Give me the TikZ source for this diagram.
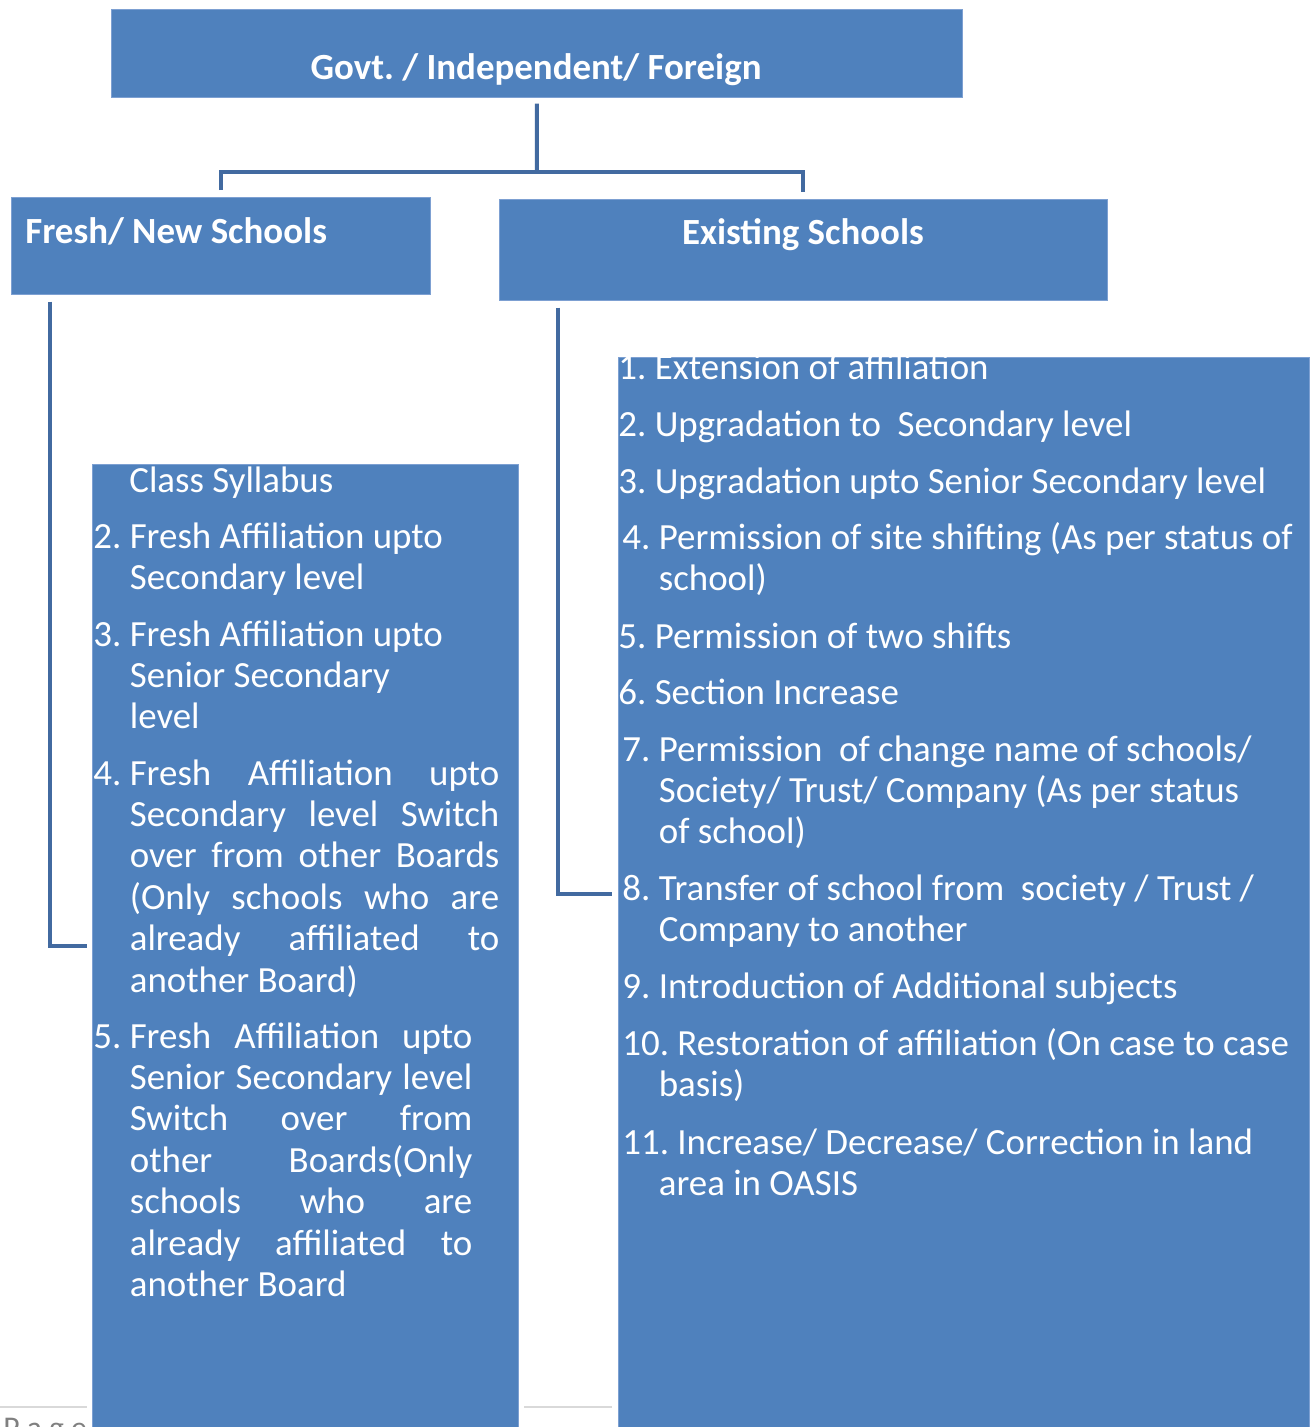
\documentclass[tikz,border=0pt]{standalone}
\usepackage{fontspec}
\setmainfont{Carlito}
\usetikzlibrary{positioning}
\frenchspacing
\definecolor{boxblue}{RGB}{79,129,189}
\definecolor{linkblue}{RGB}{66,106,160}
\definecolor{edgeblue}{RGB}{125,160,210}
\definecolor{footgrey}{RGB}{217,217,217}
\newcommand{\itemtext}[2]{\parbox[t]{#1}{\hangindent=0.73cm\hangafter=1 #2}}
\newcommand{\itemnum}[1]{\makebox[0.73cm][l]{#1}}
\begin{document}
\begin{tikzpicture}[x=0.02cm,y=-0.02cm,
		box/.style={fill=boxblue,draw=edgeblue,line width=0.4pt,anchor=north west,inner sep=0pt},
		head/.style={text=white,font=\fontsize{21}{24}\selectfont\bfseries,inner sep=0pt},
		entry/.style={text=white,font=\fontsize{21}{23.6}\selectfont,anchor=base west,inner sep=0pt},
		link/.style={linkblue,line width=0.08cm}]
		\useasboundingbox (0,0) rectangle (1312,1427);
		
		% page footer
		\draw[footgrey,line width=0.04cm] (0,1407) -- (87,1407);
		\draw[footgrey,line width=0.04cm] (524,1407) -- (612,1407);
		\node[text=gray,anchor=north west,inner sep=0pt,font=\fontsize{18}{22}\selectfont] (pagelabel) at (3,1418) {P a g e};
		
		% boxes
		\node[box,minimum width=17.02cm,minimum height=1.76cm] (govt) at (111,9) {};
		\node[box,minimum width=8.38cm,minimum height=1.94cm] (fresh) at (11,197) {};
		\node[box,minimum width=12.16cm,minimum height=2.02cm] (exist) at (499,199) {};
		\node[box,minimum width=8.52cm,minimum height=19.5cm] (freshlist) at (92,464) {};
		\node[box,minimum width=13.82cm,minimum height=21.7cm] (existlist) at (618,357) {};
		
		\node[head] (govtlabel) at (536,70) {Govt. / Independent/ Foreign};
		\node[head,anchor=west] (freshlabel) at (25,231) {Fresh/ New Schools};
		\node[head] (existlabel) at (803,235) {Existing Schools};
		
		% connectors
		\coordinate (split) at (537,172);
		\coordinate (freshend) at (87,946);
		\coordinate (existend) at (612,894);
		\draw[link] ([yshift=-0.12cm]govt.south) -- (split);
		\draw[link] ([yshift=0.14cm]fresh.north) |- (split) -| ([yshift=0.14cm]exist.north);
		\draw[link] ([xshift=0.78cm,yshift=-0.14cm]fresh.south west) |- (freshend);
		\draw[link] ([xshift=1.18cm,yshift=-0.14cm]exist.south west) |- (existend);
		
		% fresh schools list
		\node[entry] (fresh1) at (129,492) {Class Syllabus};
		\node[entry] (fresh2) at (93,548) {\itemtext{8.5cm}{\raggedright\itemnum{2.}Fresh Affiliation upto\newline Secondary level}};
		\node[entry] (fresh3) at (93,646) {\itemtext{8.5cm}{\raggedright\itemnum{3.}Fresh Affiliation upto\newline Senior Secondary\newline level}};
		\node[entry] (fresh4) at (93,785) {\itemtext{8.12cm}{\itemnum{4.}Fresh Affiliation upto\linebreak Secondary level Switch\linebreak over from other Boards\linebreak (Only schools who are\linebreak already affiliated to\linebreak another Board)}};
		\node[entry] (fresh5) at (93,1048) {\itemtext{7.58cm}{\itemnum{5.}Fresh Affiliation upto\linebreak Senior Secondary level\linebreak Switch over from\linebreak other Boards(Only\linebreak schools who are\linebreak already affiliated to\linebreak another Board}};
		
		% existing schools list
		\node[entry] (exist1) at (618,379) {\itemnum{1.}Extension of affiliation};
		\node[entry] (exist2) at (618,436) {\itemnum{2.}Upgradation to\ \ Secondary level};
		\node[entry] (exist3) at (618,493) {\itemnum{3.}Upgradation upto Senior Secondary level};
		\node[entry] (exist4) at (622,549) {\itemtext{13.8cm}{\raggedright\itemnum{4.}Permission of site shifting (As per status of\newline school)}};
		\node[entry] (exist5) at (618,648) {\itemnum{5.}Permission of two shifts};
		\node[entry] (exist6) at (618,704) {\itemnum{6.}Section Increase};
		\node[entry] (exist7) at (622,761) {\itemtext{13.8cm}{\raggedright\itemnum{7.}Permission\ \ of change name of schools/\newline Society/ Trust/ Company (As per status\newline of school)}};
		\node[entry] (exist8) at (622,900) {\itemtext{13.8cm}{\raggedright\itemnum{8.}Transfer of school from\ \ society / Trust /\newline Company to another}};
		\node[entry] (exist9) at (622,998) {\itemnum{9.}Introduction of Additional subjects};
		\node[entry] (exist10) at (622,1055) {\itemtext{13.8cm}{\raggedright 10. Restoration of affiliation (On case to case\newline basis)}};
		\node[entry] (exist11) at (622,1154) {\itemtext{13.8cm}{\raggedright 11. Increase/ Decrease/ Correction in land\newline area in OASIS}};
	\end{tikzpicture}
\end{document}
